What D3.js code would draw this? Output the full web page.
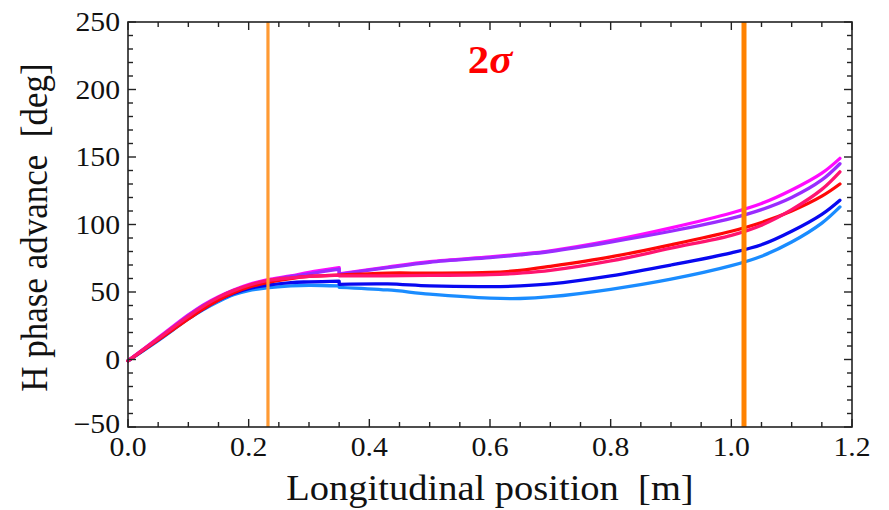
<!DOCTYPE html>
<html><head><meta charset="utf-8">
<script src="https://cdn.jsdelivr.net/npm/d3@7"></script>
<style>
html,body{margin:0;padding:0;background:#fff;}
svg{display:block;}
text{font-family:"Liberation Serif","DejaVu Serif",serif;fill:#111;white-space:pre;}
</style></head>
<body>
<script>
// ---- data ----
const xSeg1 = [0, 0.05, 0.1, 0.125, 0.15, 0.175, 0.2, 0.23, 0.27, 0.3, 0.35];
const xSeg2 = [0.35, 0.43, 0.5, 0.6, 0.65, 0.7, 0.8, 0.9, 1.0, 1.05, 1.1, 1.15, 1.18];

const seriesNames = ["lightblue", "blue", "magenta", "purple", "red", "pink"];
const seriesColors = ["#1a8cff", "#0808f0", "#ff0aff", "#9a2cff", "#ff0808", "#ff1470"];

const lightblue1 = [-1, 14, 30, 37, 43, 48, 51, 53, 54.5, 55, 54.5];
const lightblue2 = [53.5, 51.5, 48.5, 45.5, 45.2, 46.5, 52, 59.5, 69.5, 76.5, 87, 101, 113];
const blue1 = [-1, 14.5, 30.5, 37.5, 44, 49, 52.5, 55, 57, 57.5, 58];
const blue2 = [55.7, 56, 54.5, 54, 54.5, 56, 62, 70, 79, 85, 95, 107.5, 118];
const magenta1 = [-1, 16, 33, 40.5, 46.5, 51.5, 55.5, 59, 62, 64.5, 68];
const magenta2 = [63.5, 68.5, 72.5, 76, 78, 80.5, 88, 97.5, 108.5, 115.5, 125.5, 138, 149];
const purple1 = [-1, 15.5, 32.5, 40, 46, 51, 54.5, 58, 61.5, 63.5, 67];
const purple2 = [63, 68, 72, 75.5, 77.5, 80, 87, 95, 104.5, 111, 120, 133, 145];
const red1 = [-1, 14.5, 30, 37.5, 44, 49.5, 53.5, 57, 60, 61.5, 62.5];
const red2 = [62.5, 64, 64, 64.5, 66, 69, 76, 85, 95, 101.5, 110, 121, 130];
const pink1 = [-1, 15.5, 32, 39.5, 46, 51, 55, 58.5, 60.5, 61.5, 62.5];
const pink2 = [62, 62, 62.3, 62.8, 64, 66, 73, 82.5, 92, 99.5, 111, 126, 139];

const seg1Values = [lightblue1, blue1, magenta1, purple1, red1, pink1];
const seg2Values = [lightblue2, blue2, magenta2, purple2, red2, pink2];

const markerX = [0.232, 1.021];
const xTicks = [0, 0.2, 0.4, 0.6, 0.8, 1.0, 1.2];
const yTicks = [-50, 0, 50, 100, 150, 200, 250];
const xLabel = "Longitudinal position  [m]";
const yLabel = "H phase advance  [deg]";

// ---- layout ----
const W = 889, H = 510;
const pL = 128, pR = 852, pT = 22, pB = 427;
const x = d3.scaleLinear().domain([0, 1.2]).range([pL, pR]);
const y = d3.scaleLinear().domain([-50, 250]).range([pB, pT]);

const svg = d3.select("body").append("svg").attr("width", W).attr("height", H);

// curves
const line = d3.line().x(d => x(d[0])).y(d => y(d[1])).curve(d3.curveCatmullRom.alpha(0.5));
seriesNames.forEach((n, i) => {
  const s1 = xSeg1.map((xx, j) => [xx, seg1Values[i][j]]);
  const s2 = xSeg2.map((xx, j) => [xx, seg2Values[i][j]]);
  const d = line(s1) + line(s2).replace(/^M/, "L");
  svg.append("path").attr("d", d).attr("fill", "none")
    .attr("stroke", seriesColors[i]).attr("stroke-width", 3.3)
    .attr("stroke-linejoin", "round").attr("stroke-linecap", "round");
});

// orange markers
svg.append("line").attr("x1", x(markerX[0])).attr("x2", x(markerX[0]))
  .attr("y1", pT).attr("y2", pB).attr("stroke", "#ff9a33").attr("stroke-width", 3.2);
svg.append("line").attr("x1", x(markerX[1])).attr("x2", x(markerX[1]))
  .attr("y1", pT).attr("y2", pB).attr("stroke", "#ff8200").attr("stroke-width", 5);

// frame
svg.append("rect").attr("x", pL).attr("y", pT).attr("width", pR - pL).attr("height", pB - pT)
  .attr("fill", "none").attr("stroke", "#222").attr("stroke-width", 1.6);

// ticks (inward, all four sides)
const xMinor = d3.range(0, 1.2001, 0.05);
const yMinor = d3.range(-50, 250.001, 10);
const tk = svg.append("g").attr("stroke", "#222").attr("stroke-width", 1.4);
xMinor.forEach(v => {
  const major = xTicks.some(t => Math.abs(t - v) < 1e-6);
  const L = major ? 8 : 5;
  tk.append("line").attr("x1", x(v)).attr("x2", x(v)).attr("y1", pB).attr("y2", pB - L);
  tk.append("line").attr("x1", x(v)).attr("x2", x(v)).attr("y1", pT).attr("y2", pT + L);
});
yMinor.forEach(v => {
  const major = yTicks.some(t => Math.abs(t - v) < 1e-6);
  const L = major ? 8 : 5;
  tk.append("line").attr("y1", y(v)).attr("y2", y(v)).attr("x1", pL).attr("x2", pL + L);
  tk.append("line").attr("y1", y(v)).attr("y2", y(v)).attr("x1", pR).attr("x2", pR - L);
});

// tick labels
const fmtX = d3.format(".1f");
xTicks.forEach(v => {
  svg.append("text").attr("transform", `translate(${x(v)},${456}) scale(1.1,1)`)
    .attr("text-anchor", "middle").attr("font-size", 27).text(fmtX(v));
});
yTicks.forEach(v => {
  const dy = v === -50 ? 6 : 9;
  svg.append("text").attr("transform", `translate(${120},${y(v) + dy}) scale(1.1,1)`)
    .attr("text-anchor", "end").attr("font-size", 27).text(v < 0 ? "\u2212" + Math.abs(v) : String(v));
});

// axis titles
svg.append("text").attr("transform", `translate(${(pL + pR) / 2},${500}) scale(1.1,1)`)
  .attr("text-anchor", "middle").attr("font-size", 35).text(xLabel);
svg.append("text").attr("transform", `translate(${47},${(pT + pB) / 2 + 3}) scale(1.1,1) rotate(-90)`)
  .attr("text-anchor", "middle").attr("font-size", 35).text(yLabel);

// annotation
const ann = svg.append("text").attr("transform", `translate(${490},${73}) scale(1.1,1)`)
  .attr("text-anchor", "middle").attr("font-size", 39).attr("font-weight", "bold")
  .style("fill", "#ff0000");
ann.append("tspan").text("2");
ann.append("tspan").attr("font-style", "italic").text("σ");
</script>
</body></html>
